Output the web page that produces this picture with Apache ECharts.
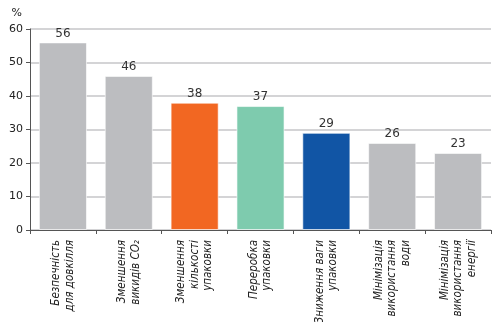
<!DOCTYPE html>
<html>
<head>
<meta charset="utf-8">
<script src="https://cdn.jsdelivr.net/npm/echarts@6/dist/echarts.min.js"></script>
<style>
html,body{margin:0;padding:0;background:#fff;}
#chart{width:500px;height:322px;}
</style>
</head>
<body>
<div id="chart"></div>
<script>
// Categories (multi-line labels) and their shares, %
const categories = [
  'Безпечність\nдля довкілля',
  'Зменшення\nвикидів CO₂',
  'Зменшення\nкількості\nупаковки',
  'Переробка\nупаковки',
  'Зниження ваги\nупаковки',
  'Мінімізація\nвикористання\nводи',
  'Мінімізація\nвикористання\nенергії'
];
const values = [56, 46, 38, 37, 29, 26, 23];
const barColors = ['#bcbdc0', '#bcbdc0', '#f26722', '#7ecbae', '#1155a5', '#bcbdc0', '#bcbdc0'];
const yTicks = { min: 0, max: 60, interval: 10 };

const chart = echarts.init(document.getElementById('chart'), null, { renderer: 'canvas' });
chart.setOption({
  animation: false,
  backgroundColor: '#ffffff',
  grid: { left: 30, right: 9, top: 29, bottom: 92, containLabel: false, outerBoundsMode: 'none' },
  xAxis: {
    type: 'category',
    data: categories,
    axisLine: { show: true, lineStyle: { color: '#555', width: 1 } },
    axisTick: { show: true, alignWithLabel: false, length: 4, lineStyle: { color: '#555' } },
    axisLabel: {
      rotate: 90,
      interval: 0,
      margin: 10,
      color: '#222',
      fontFamily: 'DejaVu Sans Condensed',
      fontStyle: 'italic',
      fontSize: 11.5,
      lineHeight: 13.5
    }
  },
  yAxis: {
    type: 'value',
    min: yTicks.min,
    max: yTicks.max,
    interval: yTicks.interval,
    name: '%',
    nameLocation: 'end',
    nameGap: 10,
    nameTextStyle: { color: '#222', fontFamily: 'DejaVu Sans', fontSize: 11, align: 'right', padding: [0, 8, 0, 0] },
    axisLine: { show: true, lineStyle: { color: '#555', width: 1 } },
    axisTick: { show: true, length: 4, lineStyle: { color: '#555' } },
    axisLabel: { color: '#222', fontFamily: 'DejaVu Sans', fontSize: 11, margin: 7 },
    splitLine: { show: true, lineStyle: { color: '#d4d4d6', width: 2 } }
  },
  series: [{
    type: 'bar',
    data: values.map((v, i) => ({ value: v, itemStyle: { color: barColors[i] } })),
    barCategoryGap: '27%',
    itemStyle: { borderColor: 'rgba(255,255,255,0.6)', borderWidth: 1 },
    label: {
      show: true,
      position: 'top',
      distance: 3,
      color: '#333',
      fontFamily: 'DejaVu Sans',
      fontSize: 12
    }
  }]
});
</script>
</body>
</html>
